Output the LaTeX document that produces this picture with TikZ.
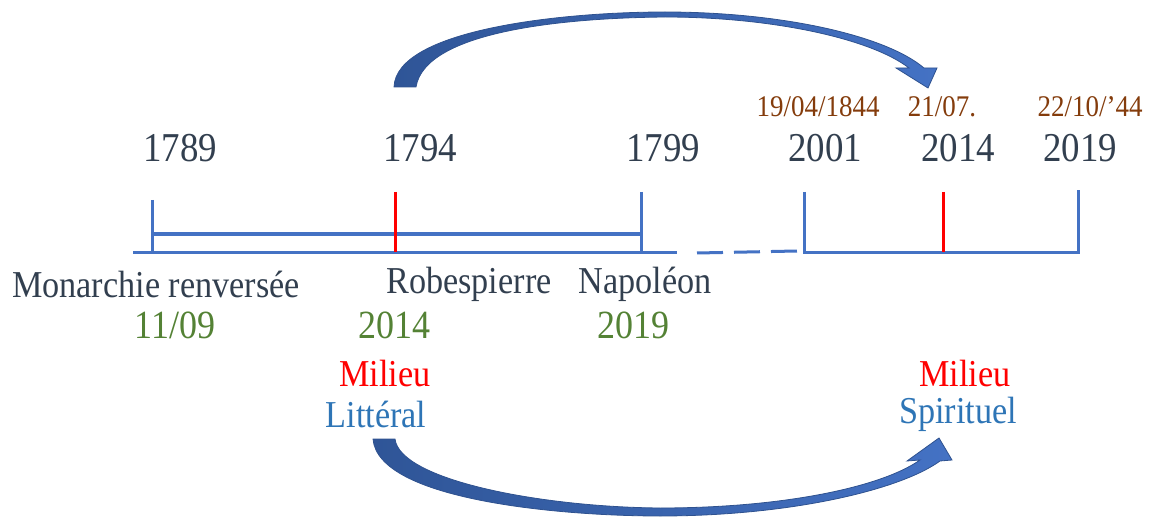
\documentclass[tikz,border=0pt]{standalone}
\usepackage{fontspec}
\setmainfont{Liberation Serif}[FakeStretch=0.9]
\usepackage{tikz}

\definecolor{slate}{HTML}{323F4F}
\definecolor{brown}{HTML}{843C0C}
\definecolor{leaf}{HTML}{548235}
\definecolor{textblue}{HTML}{2E75B6}
\definecolor{lineblue}{HTML}{4472C4}
\definecolor{arrowdark}{HTML}{2F5597}
\definecolor{arrowlight}{HTML}{4472C4}
\definecolor{arrowedge}{HTML}{2F528F}

\begin{document}
\begin{tikzpicture}[x=0.5pt,y=-0.5pt,
  yr/.style={text=slate,font=\fontsize{20.5}{24}\selectfont,inner sep=0pt},
  smalldate/.style={text=brown,font=\fontsize{15}{18}\selectfont,inner sep=0pt},
  event/.style={text=slate,font=\fontsize{19}{23}\selectfont,inner sep=0pt},
  when/.style={text=leaf,font=\fontsize{20}{24}\selectfont,inner sep=0pt},
  milieu/.style={font=\fontsize{19}{23}\selectfont,inner sep=0pt},
  bar/.style={lineblue,line width=1.5pt},
  mid/.style={red,line width=1.5pt},
  bigarrow/.style={left color=arrowdark,right color=arrowlight,draw=arrowedge,line width=0.4pt}]
\useasboundingbox (0,0) rectangle (1163,519);
% left part of the time line
\draw [bar] (133,252) -- (677,252);
\draw [bar] (152,234) -- (640,234);
\draw [bar] (152,200) -- (152,252);
\draw [bar] (641,192) -- (641,252);
\draw [mid] (395,192) -- (395,252);
% gap
\draw [bar,dash pattern=on 13pt off 5.5pt] (697,253) -- (797,251);
% right part of the time line
\draw [bar] (804,192) -- (804,252) -- (1078,252) -- (1078,190);
\draw [mid] (943,192) -- (943,252);
% years
\node [yr] (y1789) at (180,148) {1789};
\node [yr] (y1794) at (420,148) {1794};
\node [yr] (y1799) at (663,148) {1799};
\node [yr] (y2001) at (825,148) {2001};
\node [yr] (y2014) at (958,148) {2014};
\node [yr] (y2019) at (1080,148) {2019};
\node [smalldate] (d2001) at (818,107) {19/04/1844};
\node [smalldate] (d2014) at (942,107) {21/07.};
\node [smalldate] (d2019) at (1090,107) {22/10/’44};
% events
\node [event] (monarchie) at (156,284) {Monarchie renversée};
\node [event] (robespierre) at (469,284) {Robespierre};
\node [event] (napoleon) at (645,284) {Napoléon};
\node [when] (w1) at (175,325) {11/09};
\node [when] (w2) at (394,325) {2014};
\node [when] (w3) at (633,325) {2019};
\node [milieu,text=red] (mil1) at (385,374) {Milieu};
\node [milieu,text=textblue] (lit) at (376,414) {Littéral};
\node [milieu,text=red] (mil2) at (965,374) {Milieu};
\node [milieu,text=textblue] (spi) at (958,414) {Spirituel};
% curved arrows
\path [bigarrow] (394,87) .. controls (396,30) and (560,12) .. (665,12)
  .. controls (780,12) and (885,35) .. (924,68) -- (937,68) -- (928,88)
  -- (896,68) -- (909,68) .. controls (870,38) and (770,17) .. (665,17)
  .. controls (560,18) and (425,32) .. (416,87) -- cycle;
\path [bigarrow] (373,439) .. controls (378,500) and (560,516) .. (660,516)
  .. controls (790,516) and (900,490) .. (940,461) -- (952,460) -- (939,438)
  -- (907,461) -- (920,460) .. controls (880,488) and (780,508) .. (660,508)
  .. controls (540,507) and (400,480) .. (395,439) -- cycle;
\end{tikzpicture}
\end{document}
